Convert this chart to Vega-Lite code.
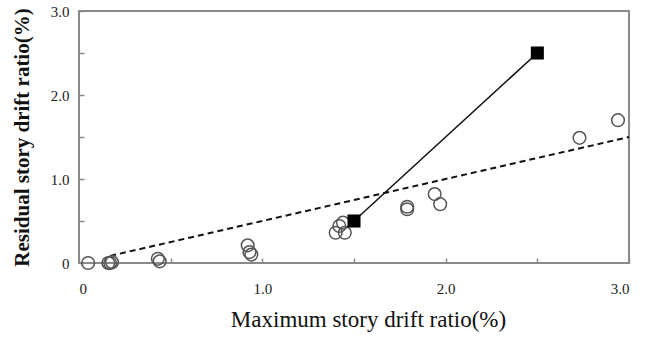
{
  "$schema": "https://vega.github.io/schema/vega-lite/v6.json",
  "width": 550,
  "height": 252,
  "autosize": {"type": "none"},
  "padding": {"left": 79, "top": 11, "right": 24, "bottom": 75},
  "background": "white",
  "config": {
    "view": {"stroke": "#8a8a8a", "strokeWidth": 2},
    "font": "Liberation Serif",
    "axis": {
      "grid": false,
      "domain": false,
      "tickColor": "#8a8a8a",
      "tickWidth": 1.5,
      "tickSize": -5,
      "labelFont": "Liberation Serif",
      "labelFontSize": 15,
      "labelColor": "#222",
      "titleFont": "Liberation Serif",
      "titleColor": "#111"
    }
  },
  "datasets": {
    "circles": [
      {"x": 0.05, "y": 0.0},
      {"x": 0.16, "y": 0.0},
      {"x": 0.17, "y": 0.0},
      {"x": 0.18, "y": 0.01},
      {"x": 0.43, "y": 0.05},
      {"x": 0.44, "y": 0.02},
      {"x": 0.92, "y": 0.21},
      {"x": 0.93, "y": 0.13},
      {"x": 0.94, "y": 0.1},
      {"x": 1.4, "y": 0.36},
      {"x": 1.42, "y": 0.44},
      {"x": 1.44, "y": 0.48},
      {"x": 1.45, "y": 0.36},
      {"x": 1.79, "y": 0.67},
      {"x": 1.79, "y": 0.64},
      {"x": 1.94, "y": 0.82},
      {"x": 1.97, "y": 0.7},
      {"x": 2.73, "y": 1.49},
      {"x": 2.94, "y": 1.7}
    ],
    "squares": [
      {"x": 1.5, "y": 0.5},
      {"x": 2.5, "y": 2.5}
    ],
    "trend": [
      {"x": 0.17, "y": 0.085},
      {"x": 3.0, "y": 1.5}
    ]
  },
  "encoding": {
    "x": {
      "field": "x",
      "type": "quantitative",
      "scale": {"domain": [0, 3], "nice": false, "zero": false},
      "axis": {
        "title": "Maximum story drift ratio(%)",
        "titleFontSize": 23,
        "titleFontWeight": "normal",
        "titleX": 289,
        "values": [0, 0.5, 1, 1.5, 2, 2.5, 3],
        "labelExpr": "datum.value == 0 ? '0' : (datum.value % 1 == 0 ? format(datum.value, '.1f') : '')",
        "labelPadding": 23,
        "titlePadding": 12
      }
    },
    "y": {
      "field": "y",
      "type": "quantitative",
      "scale": {"domain": [0, 3], "nice": false, "zero": false},
      "axis": {
        "title": "Residual story drift ratio(%)",
        "titleFontSize": 21,
        "titleFontWeight": "bold",
        "values": [0, 0.5, 1, 1.5, 2, 2.5, 3],
        "labelExpr": "datum.value == 0 ? '0' : (datum.value % 1 == 0 ? format(datum.value, '.1f') : '')",
        "labelPadding": 15,
        "titlePadding": 18
      }
    }
  },
  "layer": [
    {
      "data": {"name": "trend"},
      "mark": {"type": "line", "color": "#111", "strokeWidth": 2, "strokeDash": [6, 4]}
    },
    {
      "data": {"name": "circles"},
      "mark": {"type": "point", "shape": "circle", "filled": false, "size": 160, "stroke": "#555", "strokeWidth": 1.5, "opacity": 1}
    },
    {
      "data": {"name": "squares"},
      "mark": {"type": "line", "color": "#111", "strokeWidth": 1.5}
    },
    {
      "data": {"name": "squares"},
      "mark": {"type": "point", "shape": "square", "filled": true, "size": 170, "color": "#000", "opacity": 1}
    }
  ]
}
